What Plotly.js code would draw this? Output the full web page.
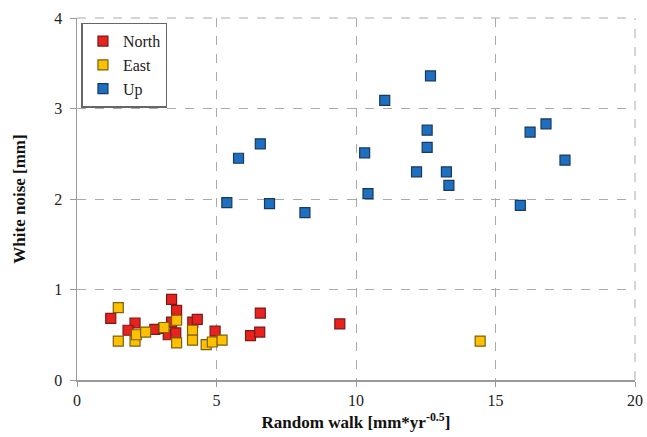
<!DOCTYPE html>
<html><head><meta charset="utf-8">
<script src="https://cdn.plot.ly/plotly-3.0.1.min.js"></script>
<style>html,body{margin:0;padding:0;background:#fff;}#chart{width:647px;height:437px;}</style>
</head><body><div id="chart"></div>
<script>
var northX = [1.21, 2.08, 1.83, 2.79, 3.10, 3.39, 3.57, 3.39, 3.27, 3.54, 4.15, 4.31, 4.95, 6.22, 6.55, 6.57, 9.42];
var northY = [0.68, 0.63, 0.55, 0.56, 0.57, 0.89, 0.77, 0.64, 0.50, 0.52, 0.64, 0.67, 0.54, 0.49, 0.53, 0.74, 0.62];
var eastX = [1.48, 1.48, 2.08, 2.13, 2.46, 3.12, 3.57, 3.57, 4.14, 4.14, 4.63, 4.85, 5.20, 14.45];
var eastY = [0.80, 0.43, 0.43, 0.50, 0.53, 0.58, 0.66, 0.41, 0.55, 0.44, 0.39, 0.42, 0.44, 0.43];
var upX = [5.37, 5.79, 6.57, 6.90, 8.17, 10.31, 10.43, 11.03, 12.67, 12.55, 12.55, 12.17, 13.24, 13.33, 15.89, 16.24, 16.81, 17.49];
var upY = [1.96, 2.45, 2.61, 1.95, 1.85, 2.51, 2.06, 3.09, 3.36, 2.76, 2.57, 2.30, 2.30, 2.15, 1.93, 2.74, 2.83, 2.43];
var xTicks = [0, 5, 10, 15, 20];
var yTicks = [0, 1, 2, 3, 4];

function mk(color, border) {
  return {symbol: 'square', size: 10, color: color, line: {color: border, width: 1.2}};
}
var traces = [
  {x: northX, y: northY, name: 'North', type: 'scatter', mode: 'markers', marker: mk('#E8231F', '#7a1a14')},
  {x: eastX, y: eastY, name: 'East', type: 'scatter', mode: 'markers', marker: mk('#FFC000', '#7a6010')},
  {x: upX, y: upY, name: 'Up', type: 'scatter', mode: 'markers', marker: mk('#1F6FC0', '#173a5e')}
];
var serif = '"Times New Roman", "Liberation Serif", serif';
var layout = {
  width: 647, height: 437,
  margin: {l: 77, r: 12, t: 18, b: 57},
  paper_bgcolor: '#fff', plot_bgcolor: '#fff',
  font: {family: serif, size: 15, color: '#222'},
  showlegend: true,
  legend: {x: 0.008, y: 0.987, xanchor: 'left', yanchor: 'top', bordercolor: '#666', borderwidth: 1.5,
           bgcolor: '#fff', font: {family: serif, size: 16, color: '#222'}, itemwidth: 30, tracegroupgap: 0},
  xaxis: {
    range: [0, 20], tickvals: xTicks, ticktext: xTicks.map(String),
    showgrid: true, gridcolor: '#aaa', griddash: 'dash', gridwidth: 1,
    showline: true, linecolor: '#999', linewidth: 1.5,
    ticks: 'outside', ticklen: 5, tickcolor: '#999',
    zeroline: false, tickfont: {family: serif, size: 16, color: '#222'},
    title: {text: '<b>Random walk [mm*yr<sup>-0.5</sup>]</b>', font: {family: serif, size: 17, color: '#111'}, standoff: 8}
  },
  yaxis: {
    range: [0, 4], tickvals: yTicks, ticktext: yTicks.map(String),
    showgrid: true, gridcolor: '#aaa', griddash: 'dash', gridwidth: 1,
    showline: true, linecolor: '#999', linewidth: 1.5,
    ticks: 'outside', ticklen: 6, tickcolor: '#999', ticklabelstandoff: 4,
    zeroline: false, tickfont: {family: serif, size: 16, color: '#222'},
    title: {text: '<b>White noise [mm]</b>', font: {family: serif, size: 17, color: '#111'}, standoff: 24}
  },
  shapes: [
    {type: 'line', xref: 'paper', yref: 'paper', x0: 0, x1: 1, y0: 1, y1: 1, line: {color: '#aaa', width: 1, dash: 'dash'}},
    {type: 'line', xref: 'paper', yref: 'paper', x0: 1, x1: 1, y0: 0, y1: 1, line: {color: '#aaa', width: 1, dash: 'dash'}}
  ]
};
Plotly.newPlot('chart', traces, layout, {displayModeBar: false, staticPlot: true});
</script>
</body></html>
